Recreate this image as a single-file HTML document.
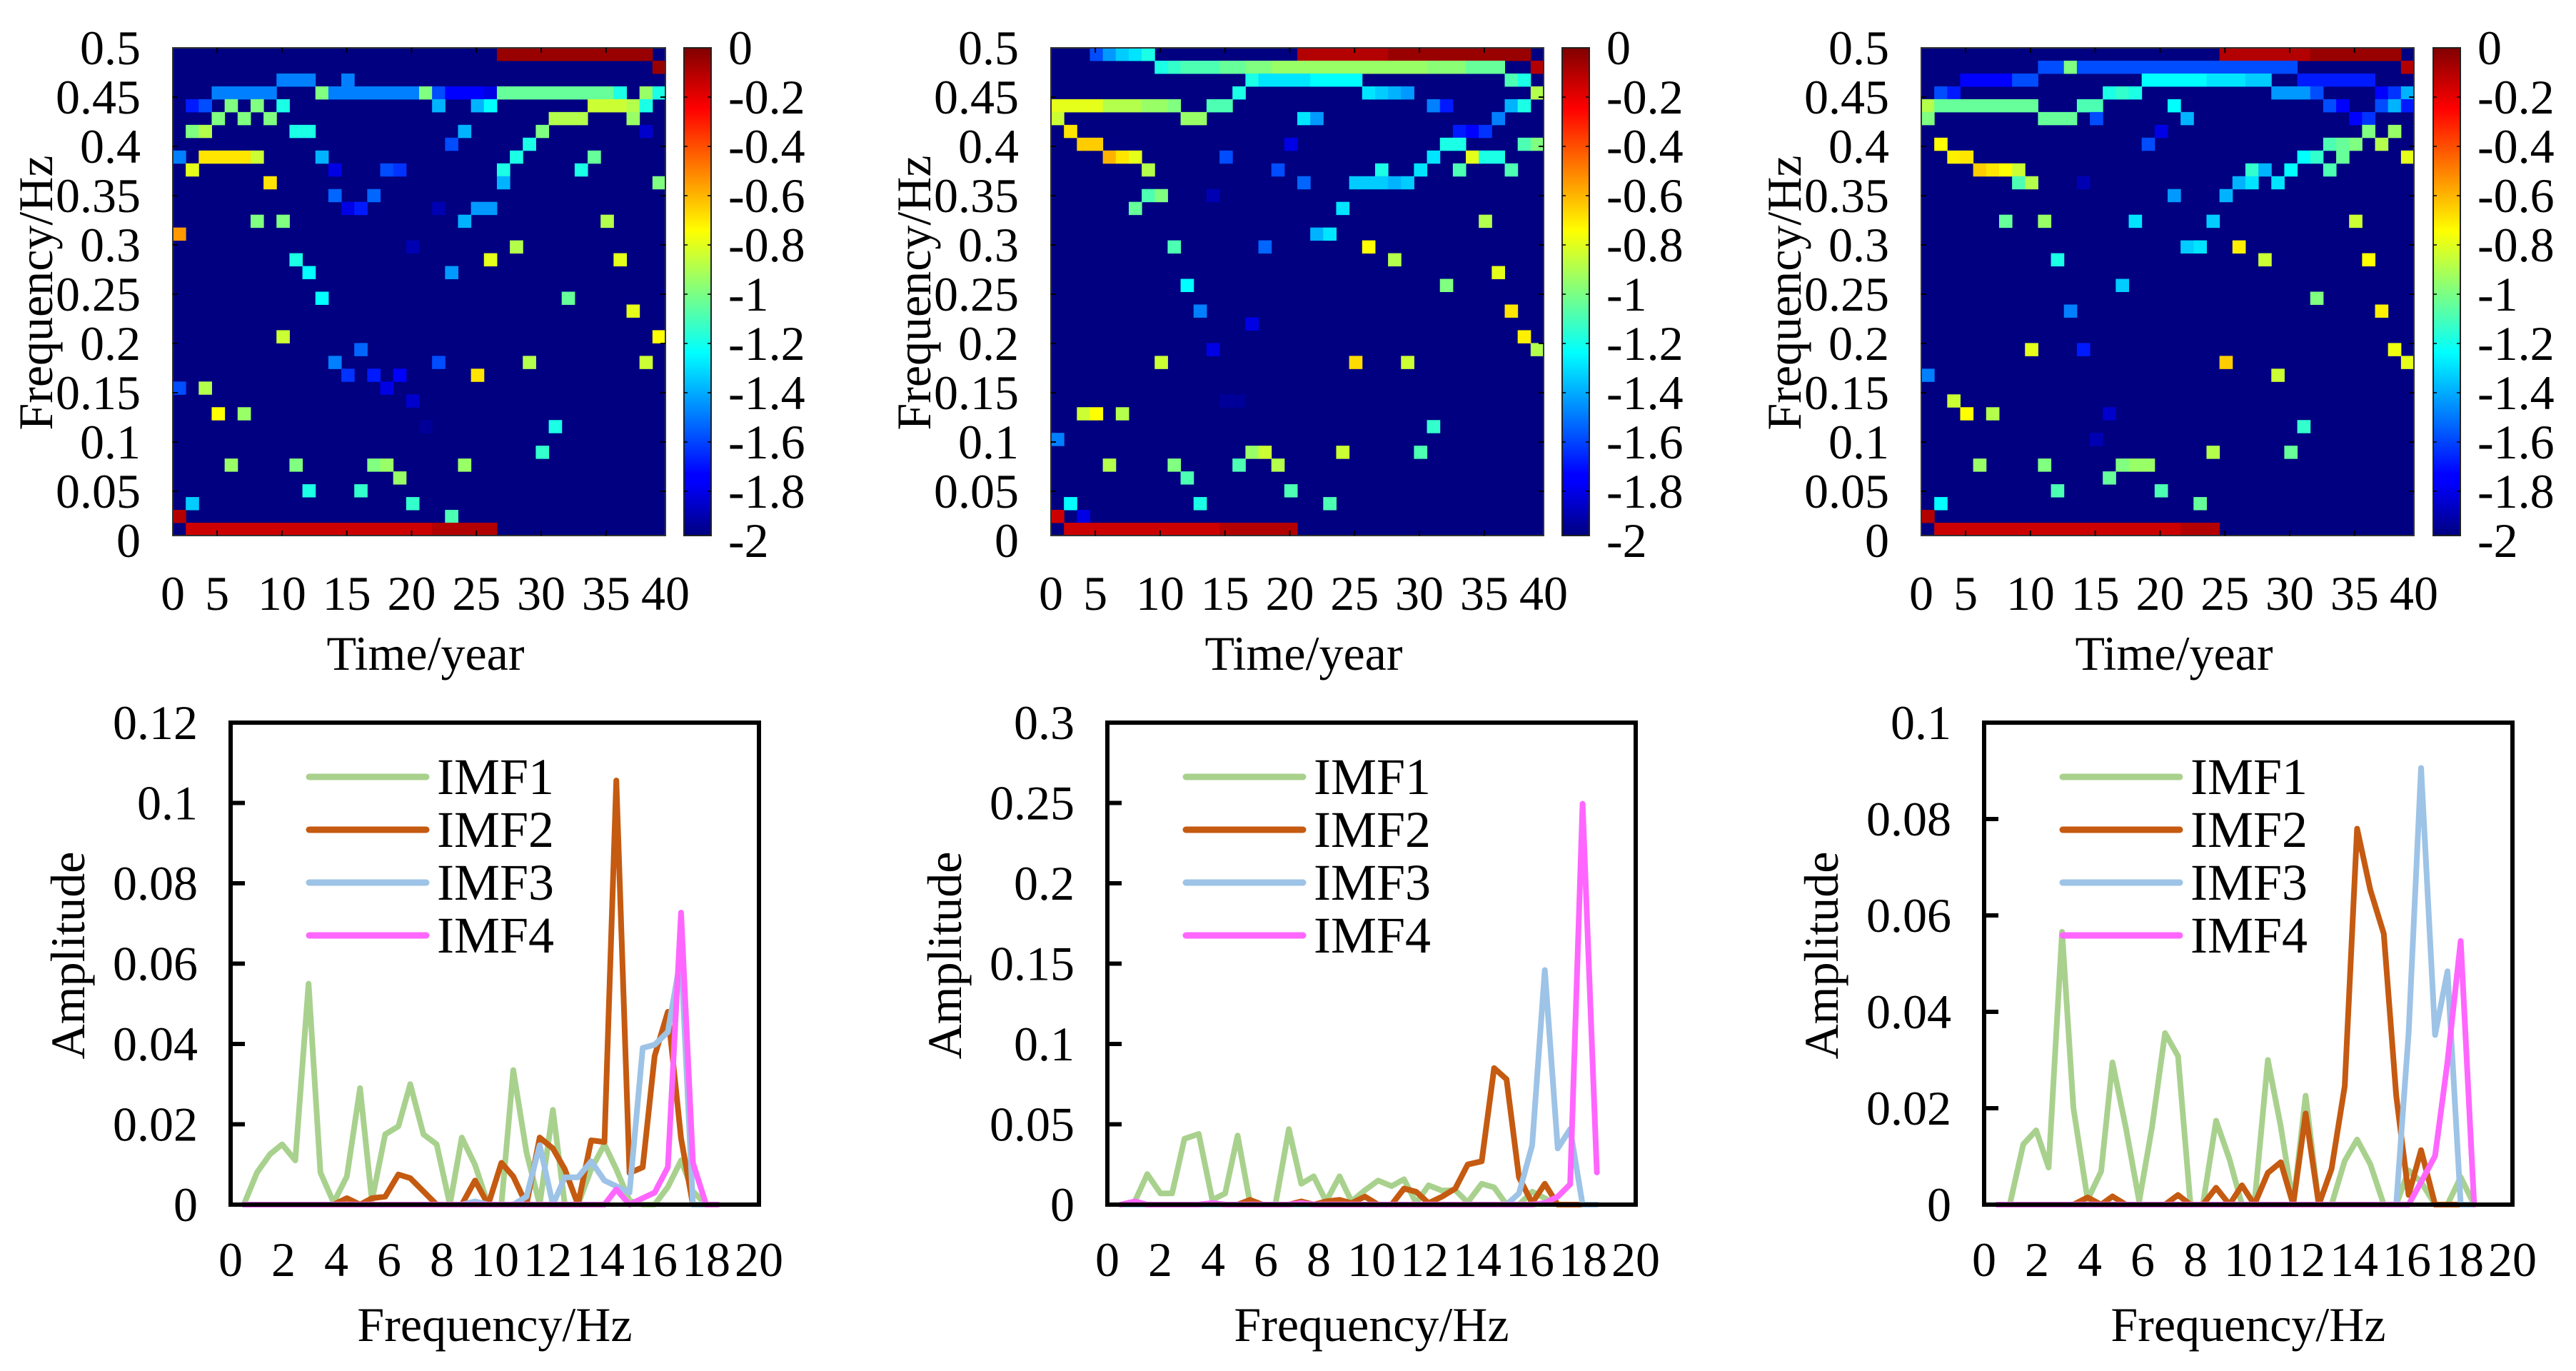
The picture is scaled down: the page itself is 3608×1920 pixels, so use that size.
<!DOCTYPE html>
<html><head><meta charset="utf-8">
<style>
html,body{margin:0;padding:0;background:#fff;}
svg{display:block;font-family:"Liberation Serif",serif;}
</style></head>
<body>
<svg id="root" width="3608" height="1920" viewBox="0 0 3608 1920" xmlns="http://www.w3.org/2000/svg">
<defs>
<linearGradient id="jet" x1="0" y1="1" x2="0" y2="0">
<stop offset="0" stop-color="#000080"/><stop offset="0.11" stop-color="#0000ff"/>
<stop offset="0.125" stop-color="#0000ff"/><stop offset="0.375" stop-color="#00ffff"/>
<stop offset="0.625" stop-color="#ffff00"/><stop offset="0.875" stop-color="#ff0000"/>
<stop offset="1" stop-color="#800000"/>
</linearGradient>
</defs>
</svg>
<script>
// ---------- heatmap data: runs [row(from top), colStart, colEnd, value] ----------
const hmTimeTicks = [0,5,10,15,20,25,30,35,40];
const hmFreqTicks = [0.5,0.45,0.4,0.35,0.3,0.25,0.2,0.15,0.1,0.05,0];
const cbTicks = [0,-0.2,-0.4,-0.6,-0.8,-1,-1.2,-1.4,-1.6,-1.8,-2];
const hm1Runs = [
[0,25,36,-0.05],[1,37,37,-0.05],
[2,8,10,-1.5],[2,13,13,-1.5],
[3,3,7,-1.5],[3,11,11,-1.0],[3,12,18,-1.5],[3,19,19,-1.0],[3,20,20,-1.6],[3,21,23,-1.75],[3,24,24,-1.8],[3,25,33,-1.05],[3,34,34,-1.2],[3,36,36,-0.95],[3,37,37,-1.2],
[4,1,1,-1.7],[4,2,2,-1.6],[4,4,4,-1.0],[4,6,6,-1.0],[4,8,8,-1.2],[4,20,20,-1.4],[4,23,23,-1.4],[4,24,24,-1.25],[4,32,34,-0.85],[4,35,35,-0.9],[4,36,36,-1.2],
[5,3,3,-1.0],[5,5,5,-1.0],[5,7,7,-1.0],[5,29,31,-0.9],[5,35,35,-0.95],
[6,1,1,-1.0],[6,2,2,-0.9],[6,9,10,-1.2],[6,22,22,-1.4],[6,28,28,-1.0],[6,36,36,-1.85],
[7,21,21,-1.6],[7,27,27,-1.2],
[8,0,0,-1.5],[8,2,5,-0.7],[8,6,6,-0.85],[8,11,11,-1.4],[8,26,26,-1.2],[8,32,32,-1.05],
[9,1,1,-0.8],[9,12,12,-1.8],[9,16,16,-1.6],[9,17,17,-1.65],[9,25,25,-1.2],[9,31,31,-1.2],
[10,7,7,-0.7],[10,25,25,-1.4],[10,37,37,-1.0],
[11,12,12,-1.55],[11,15,15,-1.55],
[12,13,13,-1.8],[12,14,14,-1.7],[12,20,20,-1.9],[12,23,24,-1.45],
[13,6,6,-1.0],[13,8,8,-1.0],[13,22,22,-1.4],[13,33,33,-0.9],
[14,0,0,-0.55],
[15,18,18,-1.9],[15,26,26,-0.9],
[16,9,9,-1.2],[16,24,24,-0.8],[16,34,34,-0.8],
[17,10,10,-1.25],[17,21,21,-1.45],
[19,11,11,-1.25],[19,30,30,-1.05],
[20,35,35,-0.8],
[22,8,8,-0.85],[22,37,37,-0.75],
[23,14,14,-1.55],
[24,12,12,-1.5],[24,20,20,-1.6],[24,27,27,-0.9],[24,36,36,-0.85],
[25,13,13,-1.65],[25,15,15,-1.7],[25,17,17,-1.75],[25,23,23,-0.7],
[26,0,0,-1.6],[26,2,2,-0.9],[26,16,16,-1.8],
[27,18,18,-1.85],
[28,3,3,-0.75],[28,5,5,-0.95],
[29,19,19,-1.95],[29,29,29,-1.2],
[31,28,28,-1.15],
[32,4,4,-0.95],[32,9,9,-1.0],[32,15,15,-1.0],[32,16,16,-0.95],[32,22,22,-0.95],
[33,17,17,-0.95],
[34,10,10,-1.2],[34,14,14,-1.15],
[35,1,1,-1.35],[35,18,18,-1.15],
[36,0,0,-0.1],[36,21,21,-1.1],
[37,1,19,-0.15],[37,20,24,-0.1]
];
const hm2Runs = [
[0,3,3,-1.6],[0,4,4,-1.45],[0,5,5,-1.35],[0,6,6,-1.3],[0,7,7,-1.2],[0,19,25,-0.1],[0,26,36,-0.05],
[1,8,8,-1.2],[1,9,9,-1.15],[1,10,12,-1.1],[1,13,14,-1.05],[1,15,16,-1.0],[1,17,28,-0.95],[1,29,31,-0.98],[1,32,34,-1.05],[1,37,37,-0.1],
[2,15,15,-1.2],[2,16,19,-1.3],[2,20,23,-1.25],[2,35,35,-1.1],[2,36,36,-1.2],
[3,14,14,-1.2],[3,24,24,-1.3],[3,25,25,-1.35],[3,26,26,-1.4],[3,27,27,-1.45],[3,37,37,-0.9],
[4,0,3,-0.8],[4,4,6,-0.9],[4,7,8,-0.95],[4,9,9,-1.0],[4,12,13,-1.1],[4,29,29,-1.5],[4,30,30,-1.7],[4,35,35,-1.4],[4,36,36,-1.2],
[5,0,0,-0.85],[5,10,11,-0.95],[5,19,19,-1.3],[5,20,20,-1.45],[5,34,34,-1.5],
[6,1,1,-0.7],[6,31,31,-1.7],[6,32,32,-1.75],[6,33,33,-1.65],
[7,2,3,-0.65],[7,18,18,-1.8],[7,30,31,-1.2],[7,36,36,-1.1],[7,37,37,-1.0],
[8,4,4,-0.6],[8,5,5,-0.7],[8,6,6,-0.8],[8,13,13,-1.6],[8,29,29,-1.3],[8,32,32,-0.8],[8,33,34,-1.2],
[9,7,7,-0.9],[9,17,17,-1.6],[9,25,25,-1.2],[9,28,28,-1.3],[9,31,31,-1.1],[9,35,35,-1.1],
[10,19,19,-1.55],[10,23,25,-1.35],[10,26,26,-1.4],[10,27,27,-1.35],
[11,7,7,-1.1],[11,8,8,-1.0],[11,12,12,-1.9],
[12,6,6,-1.05],[12,22,22,-1.3],
[13,33,33,-0.9],
[14,20,20,-1.4],[14,21,21,-1.3],
[15,9,9,-1.1],[15,16,16,-1.55],[15,24,24,-0.75],
[16,26,26,-0.9],
[17,34,34,-0.8],
[18,10,10,-1.25],[18,30,30,-1.0],
[20,11,11,-1.5],[20,35,35,-0.7],
[21,15,15,-1.8],
[22,36,36,-0.72],
[23,12,12,-1.8],[23,37,37,-0.9],
[24,8,8,-0.85],[24,23,23,-0.68],[24,27,27,-0.85],
[27,13,14,-1.95],
[28,2,2,-0.85],[28,3,3,-0.75],[28,5,5,-0.9],
[29,29,29,-1.15],
[30,0,0,-1.5],
[31,15,15,-0.95],[31,16,16,-0.85],[31,22,22,-0.85],[31,28,28,-1.1],
[32,4,4,-0.9],[32,9,9,-1.0],[32,14,14,-1.1],[32,17,17,-0.9],
[33,10,10,-1.1],
[34,18,18,-1.1],
[35,1,1,-1.25],[35,11,11,-1.2],[35,21,21,-1.1],
[36,0,0,-0.15],[36,2,2,-1.8],
[37,1,12,-0.15],[37,13,18,-0.1]
];
const hm3Runs = [
[0,23,29,-0.1],[0,30,36,-0.05],
[1,9,10,-1.6],[1,11,11,-1.0],[1,12,28,-1.6],[1,37,37,-0.1],
[2,3,6,-1.75],[2,7,8,-1.6],[2,17,21,-1.25],[2,22,24,-1.3],[2,25,26,-1.35],[2,29,34,-1.7],
[3,1,1,-1.6],[3,2,2,-1.7],[3,14,14,-1.2],[3,15,15,-1.15],[3,16,16,-1.2],[3,27,29,-1.45],[3,30,30,-1.6],[3,35,35,-1.75],[3,36,36,-1.65],[3,37,37,-1.4],
[4,0,0,-0.9],[4,1,8,-1.05],[4,12,13,-1.1],[4,19,19,-1.25],[4,31,31,-1.6],[4,32,32,-1.75],[4,35,35,-1.6],[4,36,36,-1.4],[4,37,37,-1.7],
[5,0,0,-1.0],[5,9,11,-1.05],[5,13,13,-1.6],[5,20,20,-1.4],[5,33,33,-1.75],[5,34,34,-1.65],
[6,18,18,-1.8],[6,34,34,-1.0],[6,36,36,-0.95],
[7,1,1,-0.75],[7,17,17,-1.6],[7,31,31,-1.1],[7,32,32,-1.05],[7,33,33,-1.0],[7,35,35,-0.9],
[8,2,2,-0.72],[8,3,3,-0.7],[8,29,29,-1.25],[8,30,30,-1.15],[8,32,32,-1.05],[8,37,37,-0.8],
[9,4,4,-0.65],[9,5,5,-0.7],[9,6,6,-0.75],[9,7,7,-0.85],[9,25,25,-1.15],[9,26,26,-1.4],[9,28,28,-1.25],[9,31,31,-1.1],
[10,7,7,-1.1],[10,8,8,-0.9],[10,12,12,-1.9],[10,24,24,-1.4],[10,25,25,-1.3],[10,27,27,-1.3],
[11,19,19,-1.45],[11,23,23,-1.4],
[13,6,6,-1.05],[13,9,9,-0.95],[13,16,16,-1.3],[13,22,22,-1.35],[13,33,33,-0.85],
[15,20,20,-1.35],[15,21,21,-1.3],[15,24,24,-0.72],
[16,10,10,-1.2],[16,26,26,-0.85],[16,34,34,-0.75],
[18,15,15,-1.35],
[19,30,30,-1.0],
[20,11,11,-1.5],[20,35,35,-0.72],
[23,8,8,-0.8],[23,12,12,-1.7],[23,36,36,-0.78],
[24,23,23,-0.65],[24,37,37,-0.8],
[25,0,0,-1.5],[25,27,27,-0.85],
[27,2,2,-0.85],
[28,3,3,-0.75],[28,5,5,-0.9],[28,14,14,-1.85],
[29,29,29,-1.15],
[30,13,13,-1.9],
[31,22,22,-0.9],[31,28,28,-1.05],
[32,4,4,-0.95],[32,9,9,-1.0],[32,15,15,-1.0],[32,16,17,-0.95],
[33,14,14,-1.05],
[34,10,10,-1.1],[34,18,18,-1.1],
[35,1,1,-1.25],[35,21,21,-1.05],
[36,0,0,-0.1],
[37,1,19,-0.15],[37,20,22,-0.1]
];

// ---------- spectrum data ----------
const freqTicks = [0,2,4,6,8,10,12,14,16,18,20];
const seriesNames = ["IMF1","IMF2","IMF3","IMF4"];
const f1 = [0.5,1.0,1.5,1.95,2.45,2.95,3.4,3.9,4.4,4.9,5.35,5.85,6.35,6.8,7.3,7.8,8.3,8.75,9.25,9.75,10.25,10.7,11.2,11.7,12.2,12.65,13.15,13.65,14.15,14.6,15.1,15.6,16.05,16.55,17.05,17.5,18.0,18.45];
const c1imf1 = [0,0.008,0.0126,0.015,0.011,0.055,0.008,0.0005,0.007,0.029,0.001,0.0175,0.0195,0.030,0.0175,0.015,0,0.0167,0.0099,0,0,0.0335,0.013,0,0.0236,0,0,0.0088,0.015,0.0088,0.001,0,0,0.0044,0.011,0.0033,0,null];
const c1imf2 = [0,0,0,0,0,0,0,0,0.0016,0,0.0016,0.002,0.0075,0.0066,0.0033,0,0,0,0.006,0,0.0104,0.007,0,0.0167,0.014,0.0088,0,0.016,0.0156,0.1056,0.0079,0.0093,0.037,0.048,0.0165,0,null,null];
const c1imf3 = [0,0,0,0,0,0,0,0,0,0,0,0,0,0,0,0,0,0,0.0008,0,0,0,0.002,0.0148,0,0.0068,0.0068,0.0108,0.006,0.0046,0.003,0.039,0.0398,0.043,0.062,0,0,null];
const c1imf4 = [0,0,0,0,0,0,0,0,0,0,0,0,0,0,0,0,0,0,0,0,0,0,0,0,0,0,0,0,0,0.0038,0,0.0016,0.003,0.0093,0.0727,0.0104,0,0];
const c1AmpTicks = [0,0.02,0.04,0.06,0.08,0.1,0.12];
const c1AmpLabels = ["0","0.02","0.04","0.06","0.08","0.1","0.12"];

const f2 = [0.51,1.04,1.51,2.01,2.45,2.92,3.46,3.97,4.46,4.93,5.40,5.87,6.36,6.87,7.34,7.81,8.28,8.79,9.24,9.75,10.25,10.76,11.23,11.69,12.16,12.67,13.17,13.64,14.17,14.64,15.11,15.58,16.08,16.56,17.05,17.52,17.99,18.53];
const c2imf1 = [0,0.002,0.019,0.007,0.007,0.041,0.044,0.003,0.007,0.043,0.001,0,0,0.047,0.013,0.0176,0.002,0.0176,0.002,0.009,0.015,0.0115,0.0158,0.001,0.012,0.0087,0.009,0.0014,0.013,0.0107,0,0,0.008,0.004,0,0,0,null];
const c2imf2 = [0,0,0,0,0,0,0,0,0,0,0.003,0,0,0,0.002,0,0.002,0.003,0.001,0.005,0,0,0.010,0.008,0.001,0.005,0.010,0.025,0.027,0.085,0.078,0.017,0.001,0.013,0,0,0,null];
const c2imf3 = [0,0,0,0,0,0,0,0,0,0,0,0,0,0,0,0,0,0,0,0,0,0,0,0,0,0,0,0,0,0,0,0.007,0.037,0.146,0.035,0.047,0,0];
const c2imf4 = [0,0.002,0,0,0,0,0,0.001,0,0,0,0,0,0,0.001,0,0,0,0,0,0,0,0,0,0,0,0,0,0,0,0,0,0,0.001,0.005,0.0127,0.2495,0.020];
const c2AmpTicks = [0,0.05,0.1,0.15,0.2,0.25,0.3];
const c2AmpLabels = ["0","0.05","0.1","0.15","0.2","0.25","0.3"];

const f3 = [0.5,0.97,1.48,1.97,2.44,2.95,3.38,3.92,4.43,4.86,5.37,5.87,6.36,6.85,7.34,7.81,8.28,8.78,9.29,9.76,10.23,10.74,11.23,11.70,12.17,12.67,13.15,13.65,14.12,14.62,15.13,15.60,16.07,16.54,17.07,17.54,18.04,18.55];
const c3imf1 = [0,0,0.0125,0.0154,0.0077,0.0566,0.020,0.001,0.0069,0.0295,0.0158,0.0007,0.0162,0.0356,0.0308,0,0,0.0174,0.0094,0,0,0.030,0.0162,0,0.0226,0,0,0.0091,0.0135,0.0084,0,0,0.0071,0.0047,0,0,0.0057,0];
const c3imf2 = [0,0,0,0,0,0,0,0.0015,0,0.0017,0,0,0,0,0.002,0,0,0.0035,0,0.004,0,0.0066,0.0088,0,0.0189,0,0.0074,0.0246,0.078,0.0653,0.0562,0.0226,0.002,0.0113,0,0,0,null];
const c3imf3 = [0,0,0,0,0,0,0,0,0,0,0,0,0,0,0,0,0,0,0,0,0,0,0,0,0,0,0,0,0,0,0,0,0.0357,0.0906,0.0352,0.0484,0,0];
const c3imf4 = [0,0,0,0,0,0,0,0,0,0,0,0,0,0,0,0,0,0,0,0,0,0,0,0,0,0,0,0,0,0,0,0,0,0.0047,0.0101,0.0296,0.0547,0];
const c3AmpTicks = [0,0.02,0.04,0.06,0.08,0.1];
const c3AmpLabels = ["0","0.02","0.04","0.06","0.08","0.1"];

// ---------- drawing ----------
const NS = "http://www.w3.org/2000/svg";
const root = document.getElementById('root');
function mk(tag, attrs, parent){
  const e = document.createElementNS(NS, tag);
  for (const k in attrs) e.setAttribute(k, attrs[k]);
  (parent||root).appendChild(e);
  return e;
}
function jet(v){
  const t = Math.max(0, Math.min(1, (v + 2) / 2));
  const cl = x => Math.round(255 * Math.max(0, Math.min(1, x)));
  return `rgb(${cl(1.5-Math.abs(4*t-3))},${cl(1.5-Math.abs(4*t-2))},${cl(1.5-Math.abs(4*t-1))})`;
}
const FONT = 68;
const NCELL = 38;

function drawHeatmap(idx, left, cbLeft, runs){
  const top = 67, W = 690, H = 683, cw = W / NCELL, ch = H / NCELL;
  const g = mk('g', {});
  
  
  const bg = mk('rect', {x:left, y:top, width:W, height:H, fill:jet(-2)}, g);
  
  
  const xCell = c => left + c * cw;
  const yCell = r => top + r * ch;
  runs.forEach(run => {
    const r = run[0], c0 = run[1], c1 = run[2], v = run[3];
    const cell = mk('rect', {x:xCell(c0).toFixed(2), y:yCell(r).toFixed(2), width:((c1-c0+1)*cw+0.5).toFixed(2), height:(ch+0.5).toFixed(2), fill:jet(v)}, g);
    
    
  });
  mk('rect', {x:left, y:top, width:W, height:H, fill:'none', stroke:'#333', 'stroke-width':2}, g);
  const xTime = t => Math.max(left, Math.min(left + W, left + (t - 1.58) / NCELL * W));
  hmTimeTicks.forEach(t => {
    const x = xTime(t);
    const tx = mk('text', {x:x, y:854, 'font-size':FONT, 'text-anchor':'middle'}, g);
    tx.textContent = String(t);
    
    
    if (t > 0 && t < 40){
      mk('line', {x1:x, y1:top, x2:x, y2:top+7, stroke:'#000', 'stroke-width':2}, g);
      mk('line', {x1:x, y1:top+H, x2:x, y2:top+H-7, stroke:'#000', 'stroke-width':2}, g);
    }
  });
  const yFreq = f => top + (0.5 - f) / 0.5 * (H + 7);
  hmFreqTicks.forEach(f => {
    const y = yFreq(f);
    const tx = mk('text', {x:left-45, y:y, 'font-size':FONT, 'text-anchor':'end', 'dominant-baseline':'central'}, g);
    tx.textContent = String(f);
    
    
    if (f > 0 && f < 0.5){
      mk('line', {x1:left, y1:y, x2:left+7, y2:y, stroke:'#000', 'stroke-width':2}, g);
      mk('line', {x1:left+W, y1:y, x2:left+W-7, y2:y, stroke:'#000', 'stroke-width':2}, g);
    }
  });
  const xt = mk('text', {x:left+354, y:938, 'font-size':FONT, 'text-anchor':'middle'}, g);
  xt.textContent = 'Time/year';
  
  
  const yt = mk('text', {x:0, y:0, 'font-size':FONT, 'text-anchor':'middle', 'dominant-baseline':'central', transform:`translate(${left-192},410) rotate(-90)`}, g);
  yt.textContent = 'Frequency/Hz';
  
  
  const cbTop = 67, cbH = 683;
  const cb = mk('rect', {x:cbLeft, y:cbTop, width:38, height:cbH, fill:'url(#jet)', stroke:'#222', 'stroke-width':2}, g);
  
  
  const yCb = v => cbTop + (-v) / 2 * (cbH + 7);
  cbTicks.forEach(v => {
    const y = yCb(v);
    const tx = mk('text', {x:cbLeft+62, y:y, 'font-size':FONT, 'dominant-baseline':'central'}, g);
    tx.textContent = String(v);
    
    
    if (v < 0 && v > -2){
      mk('line', {x1:cbLeft, y1:y, x2:cbLeft+5, y2:y, stroke:'#000', 'stroke-width':1.5}, g);
      mk('line', {x1:cbLeft+38, y1:y, x2:cbLeft+33, y2:y, stroke:'#000', 'stroke-width':1.5}, g);
    }
  });
}

const COLORS = ['#A9D18E','#C55A11','#9DC3E6','#FF66FF'];
function drawSpectrum(idx, left, freqs, series, ampTicks, ampLabels){
  const top = 1012, W = 740, H = 675, bottom = top + H;
  const ampMax = ampTicks[ampTicks.length-1];
  const xS = f => left + f / 20 * W;
  const yS = a => bottom - a / ampMax * H;
  const g = mk('g', {});
  
  
  series.forEach((vals, si) => {
    let d = '', pen = false;
    vals.forEach((v, i) => {
      if (v === null){ pen = false; return; }
      d += (pen ? 'L' : 'M') + xS(freqs[i]).toFixed(1) + ',' + yS(v).toFixed(1);
      pen = true;
    });
    const p = mk('path', {d:d, fill:'none', stroke:COLORS[si], 'stroke-width':8, 'stroke-linejoin':'round', 'stroke-linecap':'round'}, g);
    
    
  });
  const box = mk('rect', {x:left, y:top, width:W, height:H, fill:'none', stroke:'#000', 'stroke-width':6}, g);
  
  
  ampTicks.forEach((a, i) => {
    const y = yS(a);
    if (i > 0 && i < ampTicks.length-1) mk('line', {x1:left, y1:y, x2:left+20, y2:y, stroke:'#000', 'stroke-width':6}, g);
    const tx = mk('text', {x:left-46, y:y, 'font-size':FONT, 'text-anchor':'end', 'dominant-baseline':'central'}, g);
    tx.textContent = ampLabels[i];
    
    
  });
  freqTicks.forEach(f => {
    const tx = mk('text', {x:xS(f), y:1787, 'font-size':FONT, 'text-anchor':'middle'}, g);
    tx.textContent = String(f);
    
    
  });
  const xt = mk('text', {x:left+370, y:1878, 'font-size':FONT, 'text-anchor':'middle'}, g);
  xt.textContent = 'Frequency/Hz';
  
  
  const yt = mk('text', {x:0, y:0, 'font-size':FONT, 'text-anchor':'middle', 'dominant-baseline':'central', transform:`translate(${left-228},1338) rotate(-90)`}, g);
  yt.textContent = 'Amplitude';
  
  
  const legY = [76,150,224,298];
  seriesNames.forEach((nm, i) => {
    const y = top + legY[i];
    const lg = mk('g', {}, g);
    
    
    mk('line', {x1:left+110, y1:y, x2:left+274, y2:y, stroke:COLORS[i], 'stroke-width':9, 'stroke-linecap':'round'}, lg);
    const tx = mk('text', {x:left+289, y:y, 'font-size':72, 'dominant-baseline':'central'}, lg);
    tx.textContent = nm;
  });
}

drawHeatmap(1, 242, 958, hm1Runs);
drawHeatmap(2, 1472, 2188, hm2Runs);
drawHeatmap(3, 2691, 3408, hm3Runs);
drawSpectrum(1, 323, f1, [c1imf1,c1imf2,c1imf3,c1imf4], c1AmpTicks, c1AmpLabels);
drawSpectrum(2, 1551, f2, [c2imf1,c2imf2,c2imf3,c2imf4], c2AmpTicks, c2AmpLabels);
drawSpectrum(3, 2779, f3, [c3imf1,c3imf2,c3imf3,c3imf4], c3AmpTicks, c3AmpLabels);
</script>
</body></html>
